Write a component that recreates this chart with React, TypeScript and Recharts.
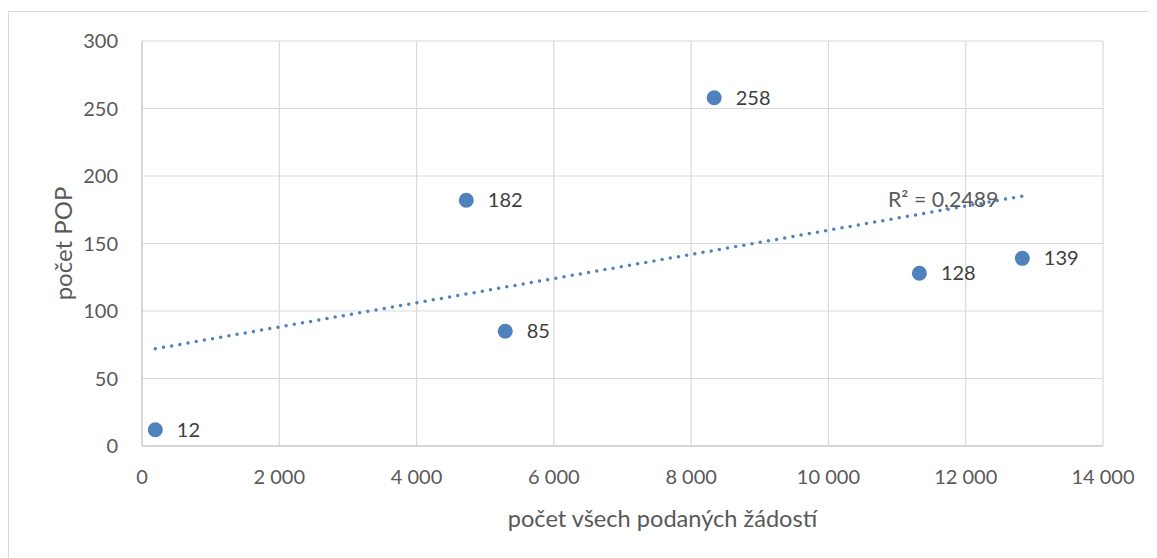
import React from 'react';
import {
  ScatterChart,
  Scatter,
  XAxis,
  YAxis,
  CartesianGrid,
  LabelList,
  ReferenceDot,
} from 'recharts';

// Data
const zadosti = [194, 4724, 5292, 8336, 11325, 12825];
const popCount = [12, 182, 85, 258, 128, 139];

const xTicks = [0, 2000, 4000, 6000, 8000, 10000, 12000, 14000];
const xTickLabels = ['0', '2 000', '4 000', '6 000', '8 000', '10 000', '12 000', '14 000'];
const yTicks = [0, 50, 100, 150, 200, 250, 300];

const xTitle = 'počet všech podaných žádostí';
const yTitle = 'počet POP';
const r2Text = 'R² = 0,2489';
const trendEnd = { x: 12825, y: 185 };

const data = zadosti.map((x, i) => ({ x, y: popCount[i] }));

const FONT = 'Lato, "Open Sans", sans-serif';
const DOT = '#4f81bd';
const GRID = '#d9d9d9';
const TICK = '#595959';

const fmtX = (v: number) => {
  const i = xTicks.indexOf(v);
  return i >= 0 ? xTickLabels[i] : String(v);
};

const Dot = (p: any) => <circle cx={p.cx} cy={p.cy} r={7.5} fill={DOT} />;

export default function App() {
  return (
    <div
      style={{
        marginTop: 3,
        width: 1149,
        height: 547,
        borderLeft: `1px solid ${GRID}`,
        borderTop: `1px solid ${GRID}`,
        boxSizing: 'border-box',
        fontFamily: FONT,
        background: '#fff',
      }}
    >
      <ScatterChart
        width={1148}
        height={546}
        margin={{ top: 29, right: 54, bottom: 0, left: 0 }}
        style={{ fontFamily: FONT }}
      >
        <CartesianGrid stroke={GRID} strokeWidth={1.2} />
        <XAxis
          type="number"
          dataKey="x"
          domain={[0, 14000]}
          ticks={xTicks}
          tickFormatter={fmtX}
          interval={0}
          height={112}
          tickLine={false}
          tickSize={0}
          tickMargin={24}
          axisLine={{ stroke: '#cfcfcf', strokeWidth: 1.4 }}
          tick={{ fill: TICK, fontSize: 20, fontFamily: FONT }}
          label={{
            content: (p: any) => {
              const vb = p.viewBox;
              return (
                <text
                  x={vb.x + vb.width / 2 + 40}
                  y={vb.y + 72}
                  textAnchor="middle"
                  dominantBaseline="central"
                  fill={TICK}
                  fontSize={23.6}
                  fontFamily={FONT}
                >
                  {xTitle}
                </text>
              );
            },
          }}
        />
        <YAxis
          type="number"
          dataKey="y"
          domain={[0, 300]}
          ticks={yTicks}
          interval={0}
          width={133}
          tickLine={false}
          tickSize={0}
          tickMargin={24}
          axisLine={{ stroke: '#cfcfcf', strokeWidth: 1.4 }}
          tick={{ fill: TICK, fontSize: 20, fontFamily: FONT }}
          label={{
            content: (p: any) => {
              const vb = p.viewBox;
              const cx = vb.x + 53;
              const cy = vb.y + vb.height / 2;
              return (
                <text
                  x={cx}
                  y={cy}
                  textAnchor="middle"
                  dominantBaseline="central"
                  transform={`rotate(-90, ${cx}, ${cy})`}
                  fill={TICK}
                  fontSize={24}
                  fontFamily={FONT}
                >
                  {yTitle}
                </text>
              );
            },
          }}
        />
        <Scatter
          data={data}
          fill={DOT}
          shape={Dot}
          isAnimationActive={false}
          line={{
            stroke: DOT,
            strokeWidth: 3.5,
            strokeDasharray: '0 8.3',
            strokeLinecap: 'round',
          }}
          lineType="fitting"
        >
          <LabelList
            dataKey="y"
            position="right"
            offset={17}
            fill="#404040"
            fontSize={20}
            fontFamily={FONT}
          />
        </Scatter>
        <ReferenceDot
          x={trendEnd.x}
          y={trendEnd.y}
          r={0}
          fill="none"
          stroke="none"
          label={{
            content: (p: any) => {
              const vb = p.viewBox;
              const x = vb.x + (vb.width || 0) / 2 - 24;
              const y = vb.y + (vb.height || 0) / 2 + 3;
              return (
                <text
                  x={x}
                  y={y}
                  textAnchor="end"
                  dominantBaseline="central"
                  fill={TICK}
                  fontSize={21.3}
                  fontFamily={FONT}
                >
                  {r2Text}
                </text>
              );
            },
          }}
        />
      </ScatterChart>
    </div>
  );
}
